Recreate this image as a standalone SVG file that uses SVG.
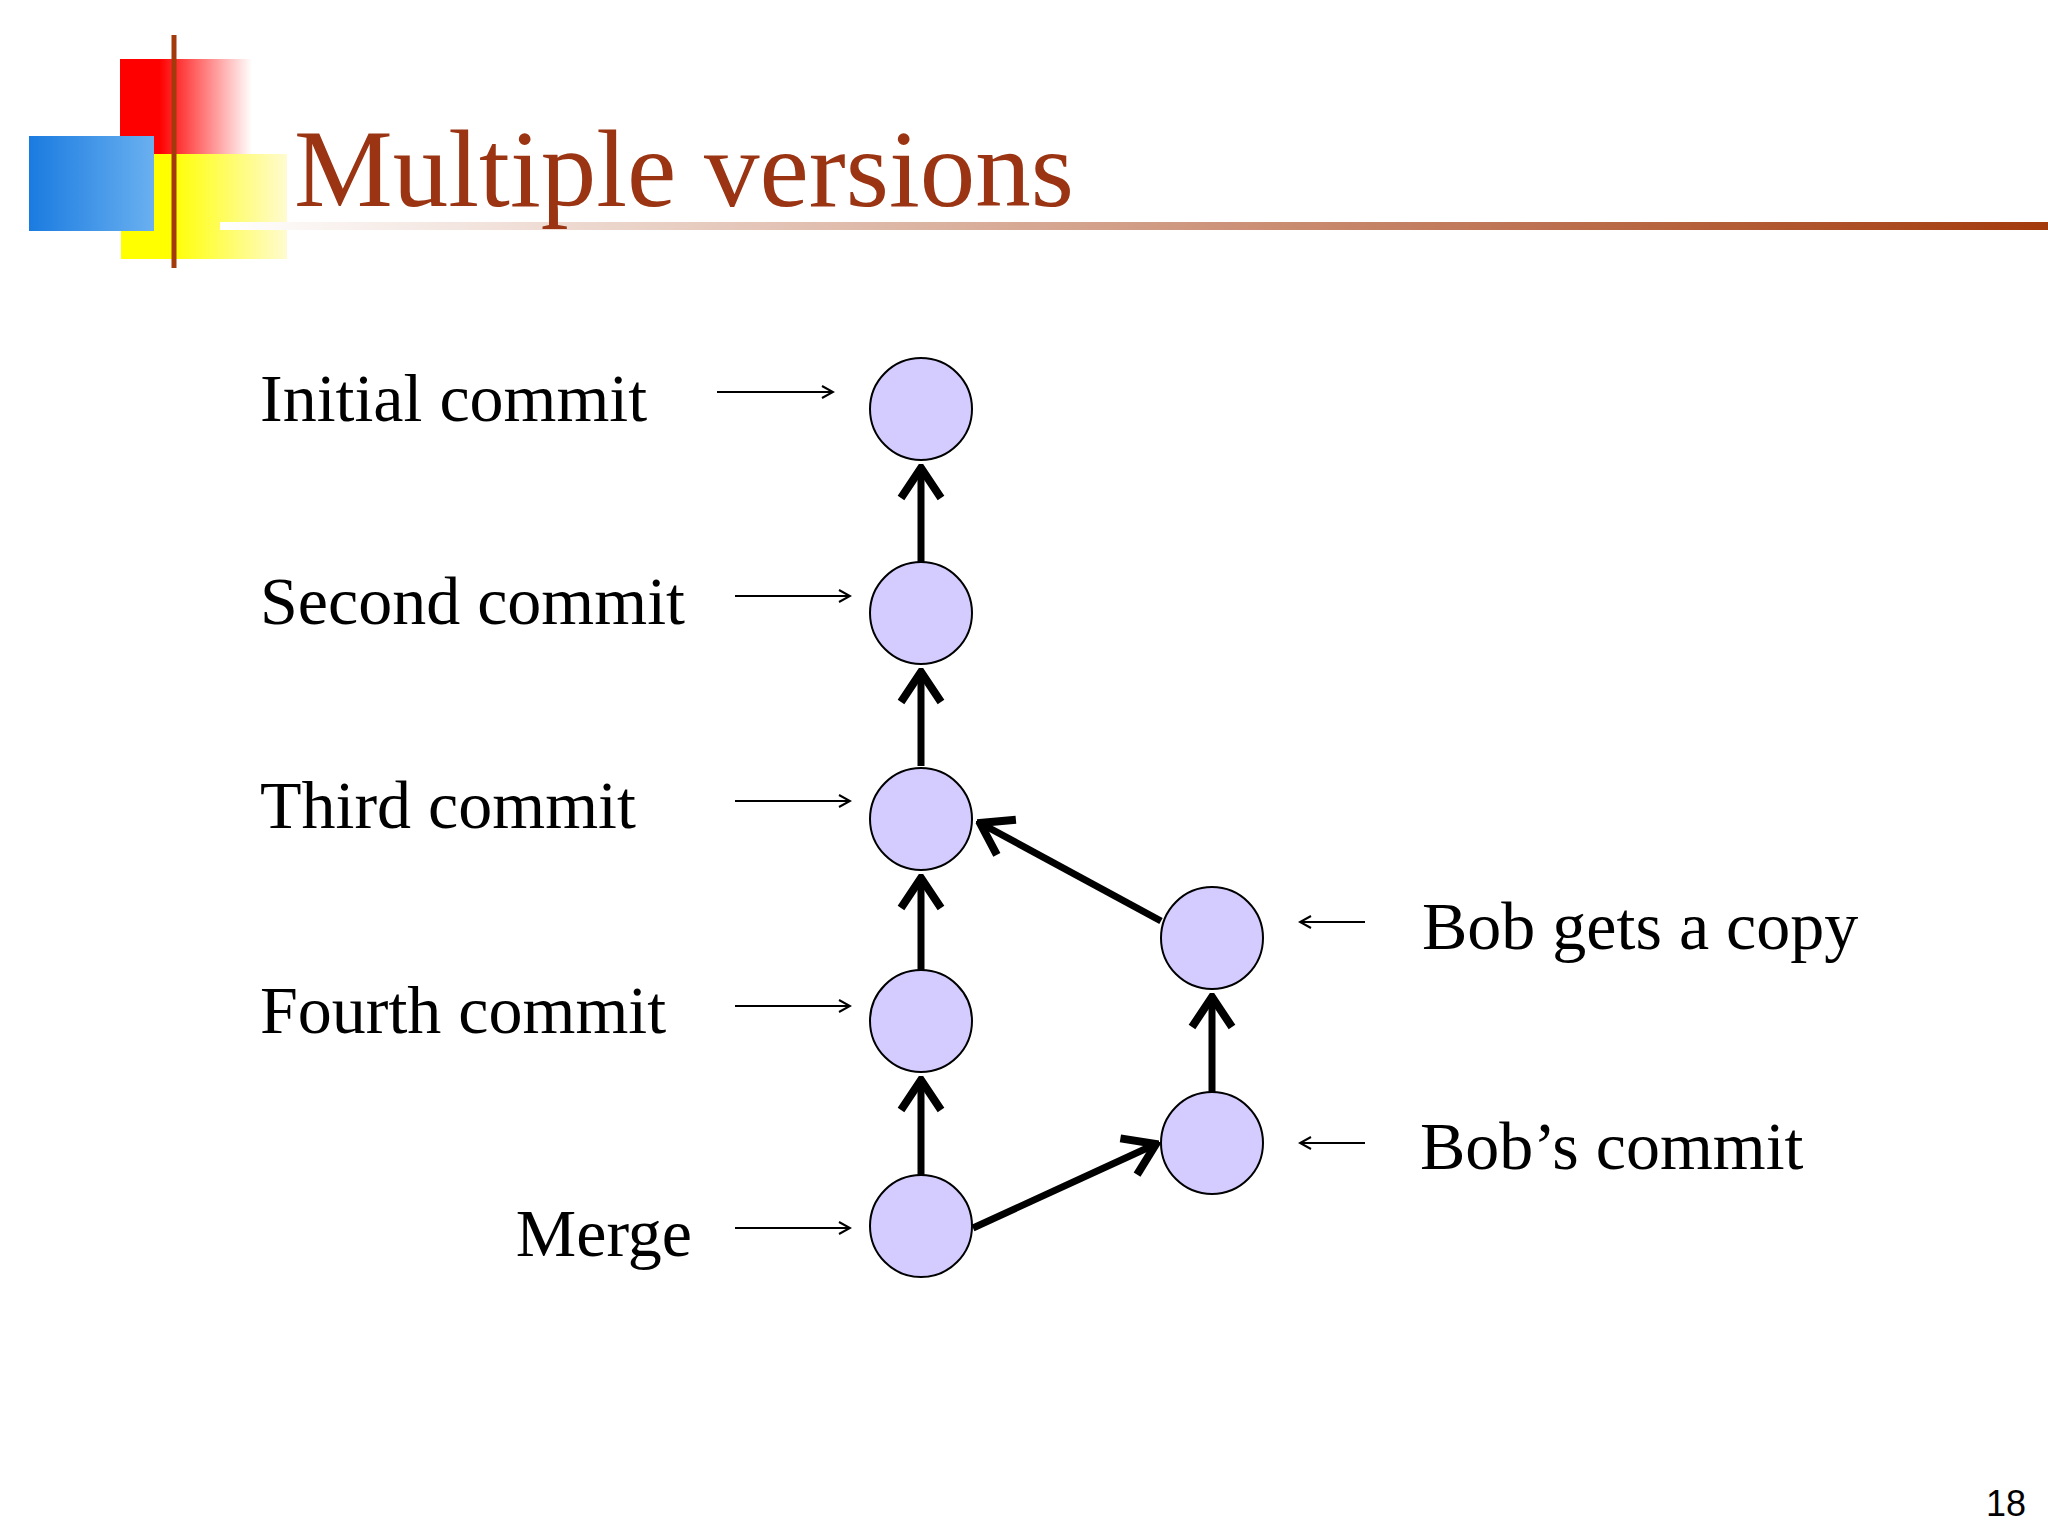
<svg xmlns="http://www.w3.org/2000/svg" width="2048" height="1536" viewBox="0 0 2048 1536">
<style>
.lbl{font-family:"Liberation Serif",serif;font-size:68px;fill:#000}
.node{fill:#d4ccff;stroke:#000;stroke-width:2}
.thick{stroke:#000;stroke-width:7;fill:none;marker-end:url(#chev)}
.thin{stroke:#000;stroke-width:2;fill:none;marker-end:url(#small)}
</style>
<defs>
<marker id="chev" markerUnits="userSpaceOnUse" viewBox="-36 -28 40 56" markerWidth="40" markerHeight="56" refX="0" refY="0" orient="auto"><path d="M-30,-20 L0,0 L-30,20" fill="none" stroke="#000" stroke-width="8"/></marker>
<marker id="small" markerUnits="userSpaceOnUse" viewBox="-14 -8 16 16" markerWidth="16" markerHeight="16" refX="0" refY="0" orient="auto"><path d="M-11,-6 L0,0 L-11,6" fill="none" stroke="#000" stroke-width="2"/></marker>
<linearGradient id="ln" x1="0" x2="1"><stop offset="0" stop-color="#fff"/><stop offset="1" stop-color="#a33a0c"/></linearGradient>
<linearGradient id="rd" x1="0" x2="1"><stop offset="0.3" stop-color="#f00"/><stop offset="1" stop-color="#fff"/></linearGradient>
<linearGradient id="bl" x1="0" x2="1"><stop offset="0" stop-color="#1a7be0"/><stop offset="1" stop-color="#6ab0f0"/></linearGradient>
<linearGradient id="yl" x1="0" x2="1"><stop offset="0.3" stop-color="#ff0"/><stop offset="1" stop-color="#fffbd0"/></linearGradient>
</defs>
<rect width="2048" height="1536" fill="#fff"/>
<g id="logo">
<rect x="120" y="59" width="132" height="95" fill="url(#rd)"/>
<rect x="121" y="154" width="166" height="105" fill="url(#yl)"/>
<rect x="29" y="136" width="125" height="95" fill="url(#bl)"/>
<line x1="174" y1="35" x2="174" y2="268" stroke="#a33a0c" stroke-width="5"/>
</g>
<rect x="220" y="222" width="1828" height="8" fill="url(#ln)"/>
<text x="294" y="206" font-family="Liberation Serif,serif" font-size="111" fill="#9a3412">Multiple versions</text>
<g id="labels">
<text class="lbl" x="260" y="421">Initial commit</text>
<text class="lbl" x="260" y="624">Second commit</text>
<text class="lbl" x="260" y="828">Third commit</text>
<text class="lbl" x="260" y="1033">Fourth commit</text>
<text class="lbl" x="692" y="1256" text-anchor="end">Merge</text>
<text class="lbl" x="1422" y="949">Bob gets a copy</text>
<text class="lbl" x="1420" y="1169">Bob’s commit</text>
</g>
<g id="connectors">
<line class="thin" x1="717" y1="392" x2="833" y2="392"/>
<line class="thin" x1="735" y1="596" x2="850" y2="596"/>
<line class="thin" x1="735" y1="801" x2="850" y2="801"/>
<line class="thin" x1="735" y1="1006" x2="850" y2="1006"/>
<line class="thin" x1="735" y1="1228" x2="850" y2="1228"/>
<line class="thin" x1="1365" y1="922" x2="1300" y2="922"/>
<line class="thin" x1="1365" y1="1143" x2="1300" y2="1143"/>
<line class="thick" x1="921" y1="562" x2="921" y2="468"/>
<line class="thick" x1="921" y1="766" x2="921" y2="672"/>
<line class="thick" x1="921" y1="970" x2="921" y2="878"/>
<line class="thick" x1="921" y1="1175" x2="921" y2="1080"/>
<line class="thick" x1="1212" y1="1092" x2="1212" y2="997"/>
<line class="thick" x1="1161" y1="921" x2="980" y2="823"/>
<line class="thick" x1="973" y1="1228" x2="1156" y2="1144"/>
</g>
<g id="n1"><circle class="node" cx="921" cy="409" r="51"/></g>
<g id="n2"><circle class="node" cx="921" cy="613" r="51"/></g>
<g id="n3"><circle class="node" cx="921" cy="819" r="51"/></g>
<g id="n4"><circle class="node" cx="921" cy="1021" r="51"/></g>
<g id="n5"><circle class="node" cx="921" cy="1226" r="51"/></g>
<g id="b1"><circle class="node" cx="1212" cy="938" r="51"/></g>
<g id="b2"><circle class="node" cx="1212" cy="1143" r="51"/></g>
<text x="2026" y="1516" text-anchor="end" font-family="Liberation Sans,sans-serif" font-size="36">18</text>
</svg>
